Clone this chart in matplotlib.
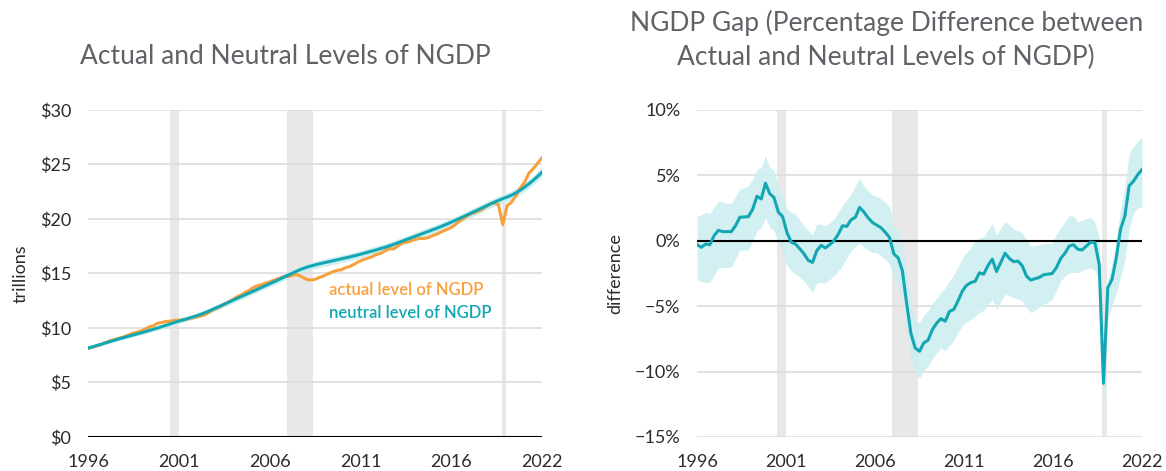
import numpy as np
import pandas as pd
import matplotlib
matplotlib.use("Agg")
import matplotlib.pyplot as plt

plt.rcParams['font.family'] = ['Lato', 'DejaVu Sans']

# quarterly data, 1996Q3 .. 2022Q3
quarters = pd.period_range('1996Q3', '2022Q3', freq='Q')
dates = quarters.year + (quarters.quarter - 1) / 4.0

# neutral level of NGDP, trillions
neutral_level = [
    8.15, 8.27, 8.39, 8.51, 8.63, 8.75, 8.87, 8.99, 9.10, 9.21,
    9.32, 9.43, 9.54, 9.65, 9.77, 9.89, 10.01, 10.14, 10.27, 10.40,
    10.53, 10.65, 10.77, 10.89, 11.01, 11.14, 11.28, 11.44, 11.61, 11.79,
    11.97, 12.15, 12.33, 12.51, 12.69, 12.87, 13.05, 13.23, 13.41, 13.59,
    13.77, 13.95, 14.13, 14.31, 14.50, 14.69, 14.88, 15.07, 15.25, 15.42,
    15.56, 15.68, 15.79, 15.89, 15.98, 16.07, 16.16, 16.25, 16.34, 16.43,
    16.52, 16.62, 16.72, 16.83, 16.94, 17.05, 17.16, 17.28, 17.40, 17.53,
    17.67, 17.82, 17.97, 18.12, 18.27, 18.42, 18.57, 18.72, 18.87, 19.02,
    19.17, 19.33, 19.50, 19.67, 19.85, 20.03, 20.21, 20.40, 20.59, 20.78,
    20.97, 21.16, 21.35, 21.53, 21.70, 21.86, 22.02, 22.18, 22.40, 22.65,
    22.92, 23.23, 23.56, 23.91, 24.30]

# half width of the shaded band round the neutral level
neutral_band = [
    0.12, 0.12, 0.13, 0.13, 0.14, 0.14, 0.15, 0.15, 0.16, 0.16,
    0.17, 0.17, 0.18, 0.18, 0.19, 0.19, 0.20, 0.20, 0.21, 0.21,
    0.22, 0.22, 0.22, 0.23, 0.23, 0.23, 0.24, 0.24, 0.24, 0.25,
    0.25, 0.25, 0.26, 0.26, 0.26, 0.27, 0.27, 0.27, 0.28, 0.28,
    0.28, 0.29, 0.29, 0.29, 0.30, 0.30, 0.31, 0.32, 0.33, 0.34,
    0.34, 0.34, 0.34, 0.34, 0.34, 0.34, 0.34, 0.34, 0.34, 0.34,
    0.34, 0.34, 0.34, 0.35, 0.35, 0.35, 0.35, 0.35, 0.35, 0.35,
    0.35, 0.35, 0.35, 0.35, 0.35, 0.36, 0.36, 0.36, 0.36, 0.36,
    0.36, 0.36, 0.36, 0.37, 0.37, 0.37, 0.37, 0.37, 0.37, 0.38,
    0.38, 0.38, 0.38, 0.38, 0.38, 0.39, 0.39, 0.39, 0.40, 0.40,
    0.40, 0.41, 0.41, 0.42, 0.42]

# actual level of NGDP, trillions
actual_level = [
    8.13, 8.23, 8.37, 8.48, 8.66, 8.82, 8.93, 9.05, 9.16, 9.32,
    9.49, 9.60, 9.72, 9.88, 10.10, 10.21, 10.45, 10.51, 10.61, 10.63,
    10.72, 10.72, 10.76, 10.86, 10.94, 11.03, 11.11, 11.25, 11.52, 11.75,
    11.90, 12.11, 12.33, 12.57, 12.84, 13.01, 13.26, 13.47, 13.75, 13.89,
    14.01, 14.15, 14.30, 14.45, 14.59, 14.73, 14.73, 14.87, 14.90, 14.68,
    14.46, 14.39, 14.46, 14.65, 14.77, 14.98, 15.14, 15.28, 15.34, 15.54,
    15.65, 15.86, 16.08, 16.26, 16.40, 16.52, 16.74, 16.84, 17.07, 17.28,
    17.25, 17.53, 17.80, 17.88, 17.98, 18.13, 18.22, 18.21, 18.30, 18.47,
    18.63, 18.83, 19.00, 19.18, 19.44, 19.76, 20.02, 20.32, 20.53, 20.64,
    20.82, 21.08, 21.33, 21.50, 21.31, 19.48, 21.23, 21.53, 22.11, 22.85,
    23.36, 24.21, 24.63, 25.12, 25.62]

# NGDP gap, percent
gap = [
    -0.3, -0.5, -0.25, -0.3, 0.4, 0.8, 0.7, 0.7, 0.7, 1.15,
    1.8, 1.82, 1.85, 2.4, 3.4, 3.2, 4.4, 3.6, 3.3, 2.2,
    1.85, 0.65, -0.1, -0.25, -0.6, -1.0, -1.5, -1.65, -0.75, -0.35,
    -0.55, -0.3, 0.0, 0.5, 1.15, 1.1, 1.6, 1.8, 2.55, 2.2,
    1.75, 1.4, 1.2, 1.0, 0.65, 0.25, -1.0, -1.3, -2.3, -4.8,
    -7.1, -8.2, -8.45, -7.8, -7.6, -6.8, -6.3, -5.95, -6.15, -5.4,
    -5.25, -4.6, -3.85, -3.4, -3.2, -3.1, -2.45, -2.55, -1.9, -1.4,
    -2.35, -1.65, -0.95, -1.35, -1.6, -1.55, -1.9, -2.7, -3.0, -2.9,
    -2.8, -2.6, -2.55, -2.5, -2.05, -1.35, -0.95, -0.4, -0.3, -0.65,
    -0.7, -0.4, -0.1, -0.15, -1.8, -10.9, -3.6, -2.95, -1.3, 0.9,
    1.9, 4.2, 4.55, 5.05, 5.45]

gap_upper = [
    1.85, 2.0, 2.2, 2.05, 2.6, 3.05, 2.95, 2.85, 2.85, 3.4,
    3.95, 4.05, 4.2, 4.7, 5.45, 5.6, 6.5, 5.6, 5.4, 4.1,
    3.4, 2.45, 2.2, 2.05, 1.6, 1.15, 0.8, 0.45, 1.3, 1.25,
    1.15, 1.4, 1.65, 2.2, 2.7, 3.15, 3.6, 4.2, 4.8, 4.2,
    3.8, 3.5, 3.4, 3.2, 2.9, 2.6, 1.0, 0.85, -0.2, -2.45,
    -4.9, -6.15, -6.25, -5.7, -5.35, -4.8, -4.4, -3.95, -3.6, -3.05,
    -2.6, -2.0, -1.3, -0.9, -0.5, 0.0, 0.2, 0.3, 0.8, 1.3,
    0.4, 1.0, 1.45, 1.2, 0.9, 0.8, 0.6, 0.1, -0.4, -0.35,
    -0.3, -0.25, -0.2, -0.2, 0.5, 1.0, 1.45, 1.9, 1.9, 1.45,
    1.55, 1.7, 1.8, 1.4, 0.3, -10.5, -3.0, -1.7, 0.1, 2.4,
    4.1, 6.7, 7.2, 7.6, 7.9]

gap_lower = [
    -3.0, -3.1, -3.2, -3.2, -2.6, -2.05, -2.05, -2.05, -2.0, -1.4,
    -0.7, -0.7, -0.7, 0.0, 0.75, 1.0, 1.8, 1.0, 0.75, -0.15,
    -0.9, -1.9, -2.3, -2.55, -2.8, -3.05, -3.5, -3.95, -3.2, -3.2,
    -3.2, -2.95, -2.7, -2.3, -1.9, -1.3, -0.75, -0.45, -0.15, -0.45,
    -0.7, -0.9, -0.9, -1.15, -1.4, -1.8, -2.7, -3.45, -4.2, -7.0,
    -9.1, -10.1, -10.5, -9.9, -9.6, -9.0, -8.6, -8.2, -8.4, -8.0,
    -7.6, -7.0, -6.5, -6.2, -6.0, -5.75, -5.5, -5.3, -4.9, -4.5,
    -5.25, -4.6, -4.1, -4.2, -4.35, -4.45, -4.6, -5.1, -5.5, -5.3,
    -5.1, -4.85, -4.7, -4.5, -3.8, -3.05, -2.7, -2.45, -2.4, -2.45,
    -2.3, -2.15, -2.05, -2.3, -3.0, -12.6, -6.0, -5.0, -4.0, -2.75,
    -1.45, 0.85, 2.1, 2.5, 2.6]

recessions = [(2001.2, 2001.7), (2007.9, 2009.4), (2020.18, 2020.45)]

year_labels = ['1996', '2001', '2006', '2011', '2016', '2022']

teal = '#12a7b3'
band = '#cdeef0'
orange = '#f8a03e'
rec_grey = '#e8e8e8'
grid_grey = '#dddddd'
title_grey = '#5f6266'
text_dark = '#2b2b2b'

fig = plt.figure(figsize=(11.66, 4.71), dpi=100)
ax1 = fig.add_axes([0.0755, 0.0722, 0.3894, 0.6943])
ax2 = fig.add_axes([0.5978, 0.0722, 0.3816, 0.6943])

xmin, xmax = dates[0], dates[-1]


def style_axis(ax):
    ax.set_xlim(xmin, xmax)
    for s in ax.spines.values():
        s.set_visible(False)
    for a, b in recessions:
        ax.axvspan(a, b, color=rec_grey, lw=0, zorder=0)
    ax.yaxis.grid(True, color=grid_grey, lw=1.2, zorder=1)
    ax.set_axisbelow(True)
    ax.set_xticks(np.linspace(xmin, xmax, len(year_labels)))
    ax.set_xticklabels(year_labels)
    ax.tick_params(axis='both', length=0, labelsize=13, colors=text_dark)
    ax.tick_params(axis='x', pad=12)
    ax.tick_params(axis='y', pad=12)


# left panel
style_axis(ax1)
nl = np.array(neutral_level)
nb = np.array(neutral_band)
ax1.fill_between(dates, nl - nb, nl + nb, color=band, lw=0, zorder=2)
ax1.plot(dates, actual_level, color=orange, lw=2.2, zorder=3)
ax1.plot(dates, neutral_level, color=teal, lw=2.2, zorder=4)
ax1.axhline(0, color='black', lw=1.5, zorder=5)
ax1.set_ylim(0, 30)
ax1.set_yticks(range(0, 31, 5))
ax1.set_yticklabels(['$%d' % v for v in range(0, 31, 5)])
ax1.set_ylabel('trillions', fontsize=13, color=text_dark, labelpad=8)
ax1.text(2010.3, 13.0, 'actual level of NGDP', color=orange, fontsize=12,
         fontweight='semibold')
ax1.text(2010.3, 10.9, 'neutral level of NGDP', color=teal, fontsize=12,
         fontweight='semibold')

# right panel
style_axis(ax2)
ax2.fill_between(dates, gap_lower, gap_upper, color=band, lw=0, alpha=0.9,
                 zorder=2)
ax2.axhline(0, color='black', lw=1.5, zorder=3)
ax2.plot(dates, gap, color=teal, lw=2.2, zorder=4)
ax2.set_ylim(-15, 10)
ax2.set_yticks(range(-15, 11, 5))
ax2.set_yticklabels([('%d%%' % v).replace('-', '\u2212') for v in range(-15, 11, 5)])
ax2.set_ylabel('difference', fontsize=13, color=text_dark, labelpad=8)

fig.text(0.2444, 0.879, 'Actual and Neutral Levels of NGDP', ha='center',
         va='center', fontsize=19, color=title_grey)
fig.text(0.760, 0.916, 'NGDP Gap (Percentage Difference between\nActual and Neutral Levels of NGDP)',
         ha='center', va='center', fontsize=19, color=title_grey,
         linespacing=1.45)

fig.savefig('out.png', dpi=100)
